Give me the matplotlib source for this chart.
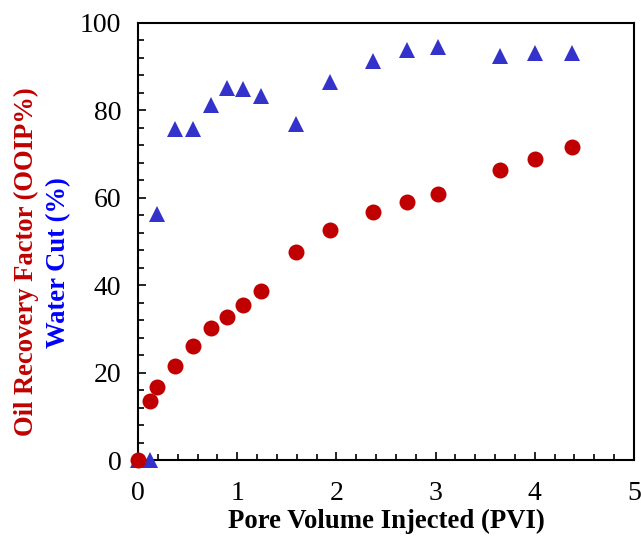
import matplotlib
matplotlib.use("Agg")
import matplotlib.pyplot as plt
from matplotlib.ticker import MultipleLocator

pvi = [0.0, 0.12, 0.19, 0.37, 0.55, 0.74, 0.90, 1.06, 1.24, 1.59, 1.94, 2.37, 2.71, 3.02, 3.65, 4.00, 4.37]
oil_recovery = [0.0, 13.5, 16.6, 21.5, 26.2, 30.2, 32.7, 35.4, 38.7, 47.5, 52.7, 56.8, 59.1, 60.9, 66.3, 68.9, 71.6]
water_cut = [0.0, 0.0, 56.4, 75.7, 75.7, 81.2, 85.2, 85.0, 83.2, 77.0, 86.6, 91.3, 93.8, 94.4, 92.4, 93.2, 93.2]

plt.rcParams['font.family'] = ['Liberation Serif', 'DejaVu Serif']

fig = plt.figure(figsize=(6.41, 5.37), dpi=100)
W, H = 641, 537
left, right, top, bottom = 138, 634, 23, 460
ax = fig.add_axes([left / W, 1 - bottom / H, (right - left) / W, (bottom - top) / H])

ax.plot(pvi, water_cut, linestyle='none', marker='^', markersize=11,
        color='#3333CC', markeredgewidth=0, clip_on=False, zorder=3)
ax.plot(pvi, oil_recovery, linestyle='none', marker='o', markersize=11.5,
        color='#C00000', markeredgewidth=0, clip_on=False, zorder=4)

ax.set_xlim(0, 5)
ax.set_ylim(0, 100)
ax.xaxis.set_major_locator(MultipleLocator(1))
ax.xaxis.set_minor_locator(MultipleLocator(0.2))
ax.yaxis.set_major_locator(MultipleLocator(20))
ax.yaxis.set_minor_locator(MultipleLocator(4))
ax.tick_params(which='both', direction='in', top=False, right=False,
               labelsize=20, width=1.2, colors='black')
ax.tick_params(which='major', length=5.5)
ax.tick_params(which='minor', length=4)
ax.tick_params(axis='x', which='major', pad=15)
ax.tick_params(axis='y', which='major', pad=12)
for s in ax.spines.values():
    s.set_linewidth(1.5)

fig.text(386 / W, 1 - 521 / H, 'Pore Volume Injected (PVI)', ha='center', va='center',
         fontsize=19.3, fontweight='bold', color='black')

fig.text(26 / W, 1 - 262 / H, 'Oil Recovery Factor (OOIP%)', rotation=90,
         ha='center', va='center', fontsize=19.2, fontweight='bold', color='#C00000')
fig.text(59 / W, 1 - 263 / H, 'Water Cut (%)', rotation=90,
         ha='center', va='center', fontsize=19.2, fontweight='bold', color='#0000FF')

fig.savefig('out.png', dpi=100)
